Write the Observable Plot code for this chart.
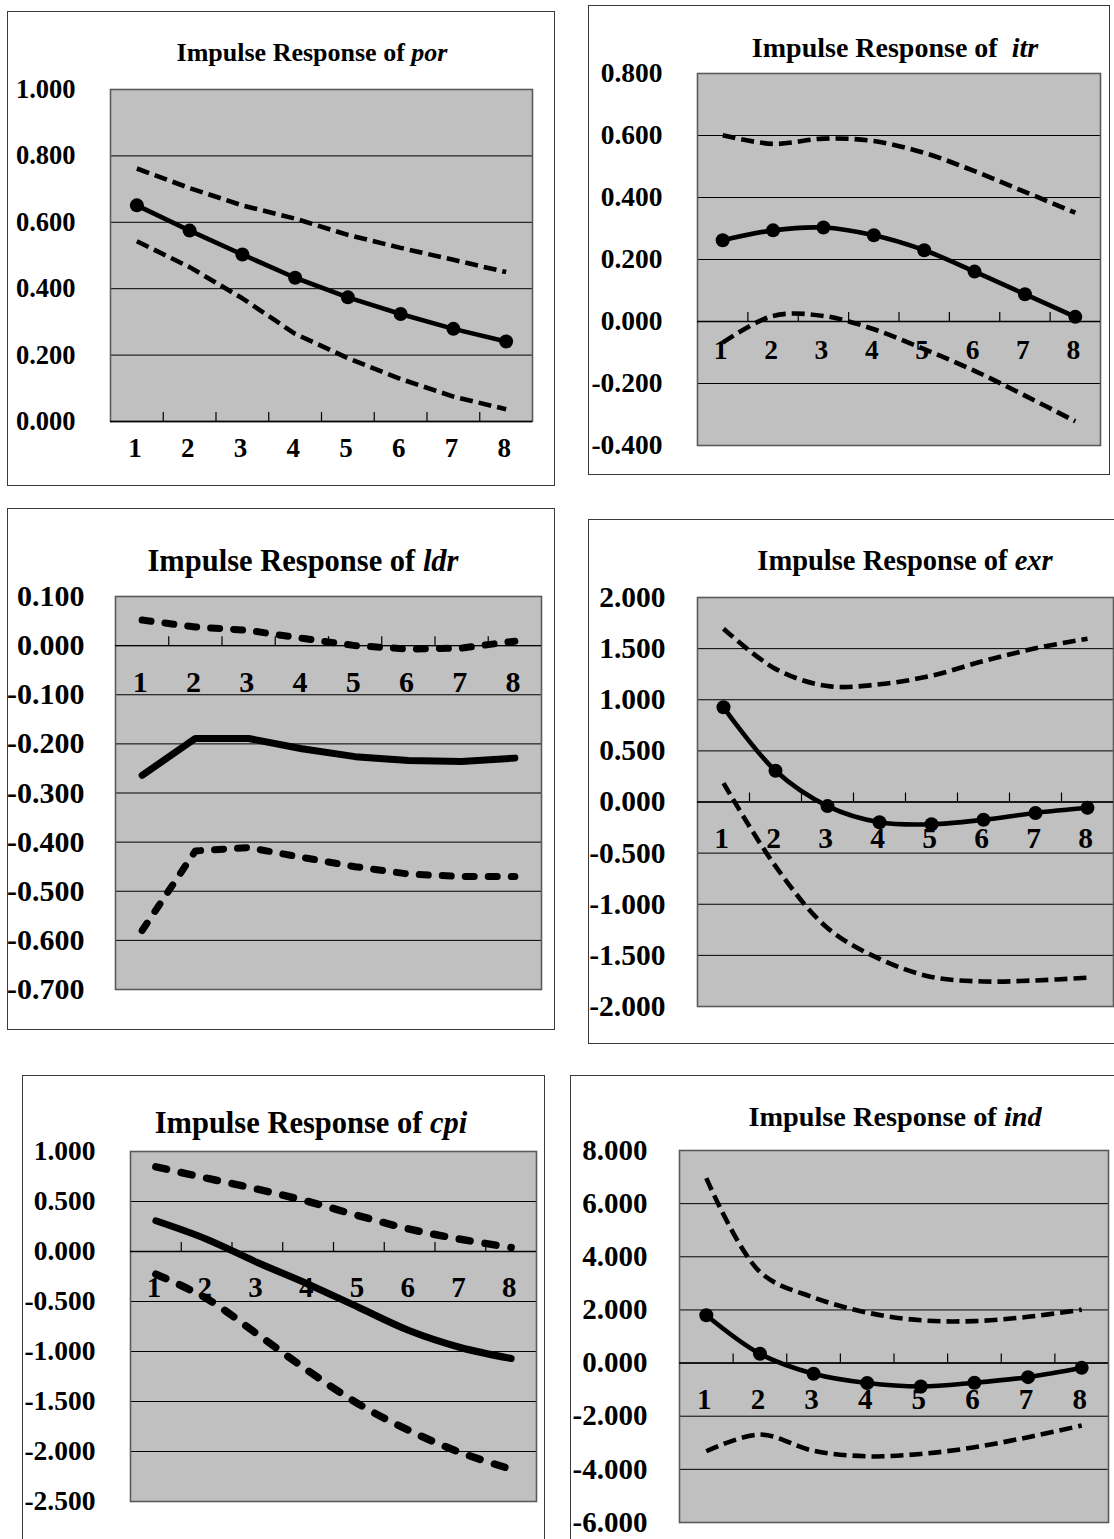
<!DOCTYPE html>
<html>
<head>
<meta charset="utf-8">
<script src="https://cdn.jsdelivr.net/npm/d3@7"></script>
<script src="https://cdn.jsdelivr.net/npm/@observablehq/plot@0.6"></script>
<style>
  html, body { margin: 0; padding: 0; background: #fff; }
  #page { position: relative; width: 1114px; height: 1539px; overflow: hidden; background: #fff; }
  .box { position: absolute; border: 1px solid #3a3a3a; box-sizing: border-box; }
  .ttl { position: absolute; width: 600px; text-align: center; white-space: pre;
         font-family: "Liberation Serif", "Times New Roman", serif; font-weight: bold; color: #000; }
  .ttl i { font-style: italic; }
  svg.pnl { position: absolute; }
</style>
</head>
<body>
<div id="page"></div>
<script>
// ---------------- data ----------------
const periods = [1, 2, 3, 4, 5, 6, 7, 8];

const porResponse = [0.651, 0.575, 0.503, 0.433, 0.374, 0.324, 0.279, 0.241];
const porUpper    = [0.762, 0.703, 0.651, 0.611, 0.562, 0.523, 0.487, 0.450];
const porLower    = [0.543, 0.465, 0.371, 0.264, 0.191, 0.128, 0.075, 0.037];
const porTicks    = [0, 0.2, 0.4, 0.6, 0.8, 1.0];

const itrResponse = [0.262, 0.294, 0.303, 0.278, 0.230, 0.161, 0.088, 0.015];
const itrUpper    = [0.601, 0.573, 0.590, 0.582, 0.544, 0.485, 0.418, 0.351];
const itrLower    = [-0.068, 0.018, 0.018, -0.025, -0.089, -0.159, -0.239, -0.322];
const itrTicks    = [-0.4, -0.2, 0, 0.2, 0.4, 0.6, 0.8];

const ldrResponse = [-0.264, -0.189, -0.189, -0.210, -0.226, -0.234, -0.236, -0.229];
const ldrUpper    = [0.052, 0.038, 0.031, 0.015, 0.000, -0.007, -0.005, 0.009];
const ldrLower    = [-0.580, -0.418, -0.411, -0.431, -0.450, -0.465, -0.470, -0.470];
const ldrTicks    = [-0.7, -0.6, -0.5, -0.4, -0.3, -0.2, -0.1, 0, 0.1];

const exrResponse = [0.926, 0.305, -0.040, -0.198, -0.218, -0.174, -0.107, -0.057];
const exrUpper    = [1.695, 1.302, 1.134, 1.151, 1.235, 1.379, 1.503, 1.597];
const exrLower    = [0.185, -0.628, -1.232, -1.534, -1.711, -1.755, -1.745, -1.718];
const exrTicks    = [-2, -1.5, -1, -0.5, 0, 0.5, 1, 1.5, 2];

const cpiResponse = [0.307, 0.123, -0.110, -0.327, -0.560, -0.793, -0.960, -1.070];
const cpiUpper    = [0.847, 0.733, 0.623, 0.500, 0.357, 0.223, 0.123, 0.040];
const cpiLower    = [-0.227, -0.470, -0.827, -1.193, -1.527, -1.793, -2.010, -2.177];
const cpiTicks    = [-2.5, -2, -1.5, -1, -0.5, 0, 0.5, 1];

const indResponse = [1.80, 0.35, -0.40, -0.75, -0.88, -0.74, -0.53, -0.18];
const indUpper    = [6.96, 3.43, 2.47, 1.90, 1.61, 1.58, 1.74, 2.01];
const indLower    = [-3.32, -2.69, -3.30, -3.51, -3.42, -3.17, -2.79, -2.35];
const indTicks    = [-6, -4, -2, 0, 2, 4, 6, 8];

// ---------------- layout / style per panel ----------------
const panels = [
  {name: "por", pre: "Impulse Response of ", resp: porResponse, up: porUpper, lo: porLower, ticks: porTicks,
   box: [7, 11, 555, 486], plot: [110, 89, 532, 421], labRight: 75, yFont: 26.5, xFont: 27, xdy: 27,
   title: [312, 62, 26], solidW: 4.6, dashW: 4.6, dash: "13,6", cap: "butt", dots: true, curve: "linear"},
  {name: "itr", pre: "Impulse Response of  ", resp: itrResponse, up: itrUpper, lo: itrLower, ticks: itrTicks,
   box: [588, 5, 1110, 475], plot: [697, 73, 1100, 445], labRight: 662, yFont: 27.5, xFont: 27.5, xdy: 29,
   title: [895, 57, 28], solidW: 4.6, dashW: 4.6, dash: "13,6", cap: "butt", dots: true, curve: "catmull-rom"},
  {name: "ldr", pre: "Impulse Response of ", resp: ldrResponse, up: ldrUpper, lo: ldrLower, ticks: ldrTicks,
   box: [7, 508, 555, 1030], plot: [115, 596, 541, 989], labRight: 84, yFont: 30, xFont: 30, xdy: 37,
   title: [303, 572, 30.5], solidW: 7, dashW: 7, dash: "9,14", cap: "round", dots: false, curve: "linear"},
  {name: "exr", pre: "Impulse Response of ", resp: exrResponse, up: exrUpper, lo: exrLower, ticks: exrTicks,
   box: [588, 519, 1116, 1044], plot: [697, 597, 1113, 1006], labRight: 665, yFont: 29.5, xFont: 29.5, xdy: 37,
   title: [905, 571, 28.5], solidW: 4.6, dashW: 4.6, dash: "13,6", cap: "butt", dots: true, curve: "catmull-rom"},
  {name: "cpi", pre: "Impulse Response of ", resp: cpiResponse, up: cpiUpper, lo: cpiLower, ticks: cpiTicks,
   box: [22, 1075, 545, 1542], plot: [130, 1151, 536, 1501], labRight: 95, yFont: 27.5, xFont: 29, xdy: 36,
   title: [311, 1134, 30.5], solidW: 7, dashW: 7.5, dash: "11,15", cap: "round", dots: false, curve: "catmull-rom"},
  {name: "ind", pre: "Impulse Response of ", resp: indResponse, up: indUpper, lo: indLower, ticks: indTicks,
   box: [570, 1075, 1116, 1542], plot: [679, 1150, 1108, 1522], labRight: 647, yFont: 29, xFont: 29, xdy: 37,
   title: [895, 1127, 28.3], solidW: 4.6, dashW: 4.6, dash: "13,6", cap: "butt", dots: true, curve: "catmull-rom"}
];

const fmt = v => (v < 0 ? "-" : "") + Math.abs(v).toFixed(3);
const page = document.getElementById("page");
const boundaries = periods.slice(0, -1).map(p => p + 0.5);

for (const p of panels) {
  const [bl, bt, br, bb] = p.box;
  const [pl, pt, pr, pb] = p.plot;
  const W = br - bl, H = bb - bt;
  const innerH = pb - pt;
  const ymin = p.ticks[0], ymax = p.ticks[p.ticks.length - 1];
  const tickLen = (ymax - ymin) * 9 / innerH;

  const box = document.createElement("div");
  box.className = "box";
  Object.assign(box.style, {left: bl + "px", top: bt + "px", width: W + "px", height: H + "px"});
  page.appendChild(box);

  const rows = periods.map((t, i) => ({t, resp: p.resp[i], up: p.up[i], lo: p.lo[i]}));

  const marks = [
    Plot.frame({fill: "#c0c0c0", stroke: null}),
    Plot.ruleY(p.ticks, {stroke: "#000", strokeWidth: 1}),
    Plot.frame({stroke: "#5a5a5a", strokeWidth: 1.6}),
    Plot.ruleY([0], {stroke: "#000", strokeWidth: 1.4}),
    Plot.ruleX(boundaries, {x: d => d, y1: 0, y2: tickLen, stroke: "#000", strokeWidth: 1.2}),
    Plot.text(periods, {x: d => d, y: 0, text: d => String(d), dy: p.xdy, dx: -2,
      fontSize: p.xFont, fontWeight: "bold", fill: "#000"}),
    Plot.line(rows, {x: "t", y: "up", stroke: "#000", strokeWidth: p.dashW,
      strokeDasharray: p.dash, strokeLinecap: p.cap, curve: p.curve}),
    Plot.line(rows, {x: "t", y: "lo", stroke: "#000", strokeWidth: p.dashW,
      strokeDasharray: p.dash, strokeLinecap: p.cap, curve: p.curve}),
    Plot.line(rows, {x: "t", y: "resp", stroke: "#000", strokeWidth: p.solidW,
      strokeLinecap: "round", strokeLinejoin: "round", curve: p.curve})
  ];
  if (p.dots) marks.push(Plot.dot(rows, {x: "t", y: "resp", r: 7, fill: "#000", stroke: null}));

  const svg = Plot.plot({
    width: W, height: H,
    marginLeft: pl - bl, marginRight: br - pr, marginTop: pt - bt, marginBottom: bb - pb,
    style: {background: "transparent", overflow: "visible", color: "#000",
            fontFamily: "'Liberation Serif', 'Times New Roman', serif", fontSize: p.yFont + "px", fontWeight: "bold"},
    x: {domain: [0.5, 8.5], axis: null},
    y: {domain: [ymin, ymax], ticks: p.ticks, tickFormat: fmt, tickSize: 0,
        tickPadding: pl - p.labRight, label: null},
    marks
  });
  svg.classList.add("pnl");
  Object.assign(svg.style, {left: bl + "px", top: bt + "px"});
  page.appendChild(svg);

  const [cx, base, fs] = p.title;
  const t = document.createElement("div");
  t.className = "ttl";
  t.style.left = (cx - 300) + "px";
  t.style.top = (base - 0.8375 * fs) + "px";
  t.style.fontSize = fs + "px";
  t.style.lineHeight = fs + "px";
  t.appendChild(document.createTextNode(p.pre));
  const it = document.createElement("i");
  it.textContent = p.name;
  t.appendChild(it);
  page.appendChild(t);
}
</script>
</body>
</html>
